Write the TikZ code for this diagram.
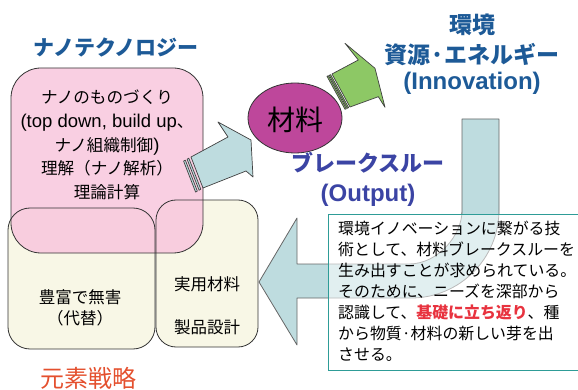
\documentclass[tikz,border=0pt]{standalone}
\usepackage{fontspec}
\setmainfont{Noto Sans CJK JP}
\newfontfamily\lat{Liberation Sans}
\definecolor{pinkfill}{HTML}{F8C8DE}
\definecolor{cream}{HTML}{F8F7E6}
\definecolor{titleblue}{HTML}{1D5A97}
\definecolor{brkblue}{HTML}{3B44A4}
\definecolor{gensored}{HTML}{E4502E}
\definecolor{ellfill}{HTML}{BE479B}
\definecolor{arrgreen}{HTML}{8DC865}
\definecolor{arrcyan}{HTML}{BEDCDF}
\definecolor{tealline}{HTML}{2E9C97}
\definecolor{hotred}{HTML}{E8333F}
\tikzset{
  boxline/.style={draw=black!80, line width=0.8pt},
  arrline/.style={draw=black!75, line width=0.7pt, line join=round},
  bigtitle/.style={font=\fontsize{22}{26}\selectfont\bfseries, text=titleblue, inner sep=0pt},
  boxtext/.style={font=\fontsize{16.5}{21}\selectfont, inner sep=0pt},
}
\begin{document}
\begin{tikzpicture}[x=1pt,y=-1pt]
\useasboundingbox (0,0) rectangle (578,390);
% yellow boxes fill
\fill[cream, rounded corners=22pt] (8,208) rectangle (155,349);
\fill[cream, rounded corners=20pt] (156,200) rectangle (258,347);
% pink box
\fill[pinkfill, fill opacity=0.88, rounded corners=30pt] (11,68) rectangle (203,253);
\draw[boxline, rounded corners=22pt] (8,208) rectangle (155,349);
\draw[boxline, rounded corners=20pt] (156,200) rectangle (258,347);
\draw[boxline, rounded corners=30pt] (11,68) rectangle (203,253);

% big U arrow
\draw[fill=arrcyan, draw=black!60, line width=0.8pt, line join=round]
  (462,119) -- (499,119) -- (499,210)
  .. controls (499,258.6) and (459.6,298) .. (411,298)
  -- (297,298) -- (297,345) -- (259,282) -- (297,218) -- (297,264) -- (409,264)
  .. controls (438.3,264) and (462,234.7) .. (462,211) -- cycle;

% cyan arrow (nano -> material)
\draw[fill=arrcyan, arrline] (191,157) -- (228,137) -- (218,122) -- (251,140) -- (253,177) -- (246,171) -- (203,188) -- cycle;
\draw[fill=arrcyan, arrline] (188.8,158.2) -- (200.8,189.2) -- (199.1,190.2) -- (187.1,159.2) -- cycle;
\draw[fill=arrcyan, arrline] (185.3,160.1) -- (197.3,191.1) -- (195.6,192.1) -- (183.6,161.1) -- cycle;

% green arrow (material -> environment)
\draw[fill=arrgreen, arrline] (332,74) -- (358.3,60) -- (345,43.3) -- (375,68.3) -- (385,107.3) -- (378.3,96.7) -- (350,107) -- cycle;
\draw[fill=arrgreen, arrline] (330.6,74.6) -- (348.6,107.6) -- (347.3,108.3) -- (329.3,75.3) -- cycle;
\draw[fill=arrgreen, arrline] (328.4,75.7) -- (346.4,108.7) -- (345.0,109.3) -- (327.0,76.3) -- cycle;

% material ellipse
\draw[fill=ellfill, draw=black!80, line width=0.8pt] (295,118) ellipse [x radius=47, y radius=35];
\node[font=\fontsize{28}{30}\selectfont, inner sep=0pt] (zairyo) at (295,120) {材料};

% text box
\draw[draw=tealline, line width=0.9pt, fill=white, fill opacity=0.55] (328,214) rectangle (582,370);
\node[anchor=north west, align=left, inner sep=0pt, font=\fontsize{15.9}{20.9}\selectfont] (note) at (338,221)
{環境イノベーションに繋がる技\\
術として、材料ブレークスルーを\\
生み出すことが求められている。\\
そのために、ニーズを深部から\\
認識して、{\bfseries\color{hotred}基礎に立ち返り}、種\\
から物質·材料の新しい芽を出\\
させる。};

% titles
\node[bigtitle, font=\fontsize{21}{24}\selectfont\bfseries] (nano) at (116,48) {ナノテクノロジー};
\node[bigtitle, font=\fontsize{23}{26}\selectfont\bfseries] (env1) at (472,25) {環境};
\node[bigtitle, font=\fontsize{23}{26}\selectfont\bfseries] (env2) at (472,55) {資源·エネルギー};
\node[bigtitle, font=\fontsize{24}{26}\selectfont\lat\bfseries] (env3) at (472,83) {(Innovation)};
\node[bigtitle, text=brkblue, font=\fontsize{22}{26}\selectfont\bfseries] (brk1) at (368,163) {ブレークスルー};
\node[bigtitle, text=brkblue, font=\fontsize{24}{26}\selectfont\lat\bfseries] (brk2) at (368,195) {(Output)};

% pink box text
\node[align=center, inner sep=0pt, font=\fontsize{16.6}{23.7}\selectfont] (nanotext) at (107,145)
{ナノのものづくり\\
{\lat\fontsize{18.5}{23.7}\selectfont (top down, build up}、\\
ナノ組織制御{\lat\fontsize{18.5}{23.7}\selectfont )}\\
理解（ナノ解析）\\
理論計算};

% yellow boxes text
\node[boxtext] (hofu) at (80,297) {豊富で無害};
\node[boxtext] (daitai) at (80,318) {（代替）};
\node[boxtext] (jitsuyo) at (207,284) {実用材料};
\node[boxtext] (seihin) at (207,327) {製品設計};

% element strategy
\node[inner sep=0pt, text=gensored, font=\fontsize{24}{26}\selectfont] (genso) at (88,378) {元素戦略};
\end{tikzpicture}
\end{document}
